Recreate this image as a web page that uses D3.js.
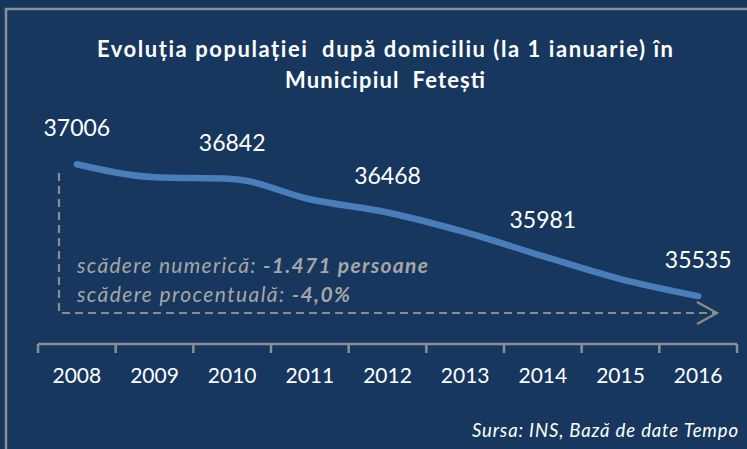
<!DOCTYPE html>
<html><head><meta charset="utf-8">
<script src="https://cdn.jsdelivr.net/npm/d3@7"></script>
<style>
html,body{margin:0;padding:0;background:#17375E;}
svg{display:block;}
text{white-space:pre;}
</style></head>
<body>
<svg id="c" width="747" height="449"></svg>
<script>
const years = ["2008","2009","2010","2011","2012","2013","2014","2015","2016"];
const population = [37006, 36861, 36842, 36616, 36468, 36248, 35981, 35725, 35535];
const labelledYears = ["2008","2010","2012","2014","2016"];
const titleLines = ["Evoluția populației  după domiciliu (la 1 ianuarie) în", "Municipiul  Fetești"];
const annotationLines = [["scădere numerică: ", "-1.471 persoane"], ["scădere procentuală: ", "-4,0%"]];
const sourceText = "Sursa: INS, Bază de date Tempo";
const yDomain = [35000, 37500];

const svg = d3.select("#c");
const W = 747, H = 449;
const font = "Lato, 'Open Sans', sans-serif";

svg.append("rect").attr("width", W).attr("height", H).attr("fill", "#17375E");
// frame
svg.append("path").attr("d", "M6,449 V9 H747").attr("fill", "none").attr("stroke", "#8a8f98").attr("stroke-width", 2.5);

// title
const titleWidths = [576, 200];
svg.selectAll("text.title").data(titleLines).enter().append("text")
  .attr("class", "title")
  .attr("x", 385).attr("y", (d, i) => 57 + i * 31)
  .attr("text-anchor", "middle")
  .attr("font-family", font).attr("font-weight", "bold").attr("font-size", 22)
  .attr("textLength", (d, i) => titleWidths[i]).attr("lengthAdjust", "spacing")
  .attr("fill", "#fff").text(d => d);

const x = d3.scaleBand().domain(years).range([38, 737]);
const y = d3.scaleLinear().domain(yDomain).range([344, 120]);

// x axis
const axis = d3.axisBottom(x).tickSizeInner(0).tickSizeOuter(0).tickPadding(0);
const gx = svg.append("g").attr("transform", "translate(0,344)").call(axis);
gx.select(".domain").remove();
gx.selectAll(".tick line").remove();
gx.append("line").attr("x1", 38).attr("x2", 737).attr("stroke", "#8a8f98").attr("stroke-width", 2.5);
const tickXs = years.map(d => x(d)).concat([x(years[years.length - 1]) + x.bandwidth()]);
gx.selectAll("line.tk").data(tickXs).enter().append("line")
  .attr("class", "tk").attr("x1", d => d).attr("x2", d => d)
  .attr("y1", 0).attr("y2", 9).attr("stroke", "#8a8f98").attr("stroke-width", 2.5);
gx.selectAll(".tick text")
  .attr("font-family", font).attr("font-size", 21).attr("fill", "#fff")
  .attr("y", 39).attr("dy", 0);

// annotation dashed arrow
const ax0 = 59, ay0 = 173, ay1 = 313, ax1 = 716;
svg.append("path").attr("d", `M${ax0},${ay0} V${ay1} H${ax1}`)
  .attr("fill", "none").attr("stroke", "#8c8c8c").attr("stroke-width", 2.2)
  .attr("stroke-dasharray", "8,5");
svg.append("path").attr("d", `M${ax1 - 19},${ay1 - 11} L${ax1 + 1},${ay1} L${ax1 - 19},${ay1 + 11}`)
  .attr("fill", "none").attr("stroke", "#8c8c8c").attr("stroke-width", 2.2);

// annotation text
const annWidths = [351, 273];
annotationLines.forEach((parts, i) => {
  const t = svg.append("text").attr("x", 77).attr("y", 273 + i * 29)
    .attr("font-family", font).attr("font-style", "italic").attr("font-size", 21)
    .attr("textLength", annWidths[i]).attr("lengthAdjust", "spacing")
    .attr("fill", "#a6a6a6");
  t.append("tspan").text(parts[0]);
  t.append("tspan").attr("font-weight", "bold").text(parts[1]);
});

// line
const cx = d => x(d) + x.bandwidth() / 2;
const line = d3.line().x((d, i) => cx(years[i])).y(d => y(d)).curve(d3.curveMonotoneX);
svg.append("path").datum(population).attr("d", line)
  .attr("fill", "none").attr("stroke", "#4A7EBB").attr("stroke-width", 6.5)
  .attr("stroke-linecap", "round").attr("stroke-linejoin", "round");

// data labels
svg.selectAll("text.lbl").data(years.map((yr, i) => ({yr, v: population[i]})).filter(d => labelledYears.includes(d.yr)))
  .enter().append("text").attr("class", "lbl")
  .attr("x", d => cx(d.yr)).attr("y", d => y(d.v) - 28)
  .attr("text-anchor", "middle").attr("font-family", font).attr("font-size", 23)
  .attr("fill", "#fff").text(d => d.v);

// source
svg.append("text").attr("x", 738).attr("y", 437).attr("text-anchor", "end")
  .attr("font-family", font).attr("font-style", "italic").attr("font-size", 18.5)
  .attr("textLength", 266).attr("lengthAdjust", "spacing")
  .attr("fill", "#fff").text(sourceText);
</script>
</body></html>
